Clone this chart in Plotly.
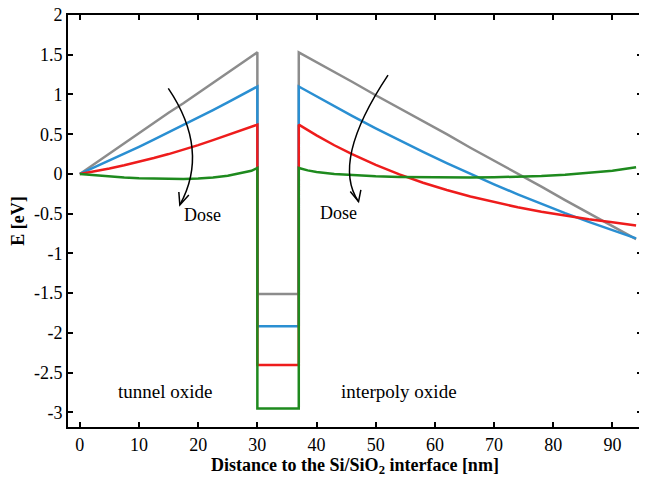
import plotly.graph_objects as go

# ---------------- data ----------------
well_left = 30
well_right = 37

x_tunnel = [0, 2.5, 5, 7.5, 10, 12.5, 15, 17.5, 20, 22.5, 25, 27.5, 29, 30]
x_interpoly = [37, 38.5, 40, 43, 46, 50, 54, 58, 62, 66, 70, 74, 78, 82, 86, 90, 94]

gray_tunnel = [0, 0.13, 0.26, 0.38, 0.51, 0.64, 0.77, 0.89, 1.02, 1.15, 1.28, 1.40, 1.48, 1.53]
gray_bottom = -1.51
gray_interpoly = [1.53, 1.47, 1.41, 1.28, 1.16, 0.99, 0.83, 0.66, 0.50, 0.33, 0.17, 0.00,
                  -0.16, -0.33, -0.49, -0.655, -0.82]

blue_tunnel = [0, 0.083, 0.168, 0.254, 0.342, 0.431, 0.522, 0.615, 0.709, 0.804, 0.901, 1.000, 1.06, 1.10]
blue_bottom = -1.915
blue_interpoly = [1.10, 1.037, 0.974, 0.851, 0.730, 0.574, 0.423, 0.277, 0.136, 0.000, -0.130,
                  -0.256, -0.377, -0.493, -0.603, -0.709, -0.81]

red_tunnel = [0, 0.033, 0.069, 0.109, 0.152, 0.200, 0.250, 0.305, 0.363, 0.425, 0.490, 0.560, 0.595, 0.62]
red_bottom = -2.405
red_interpoly = [0.62, 0.55, 0.485, 0.361, 0.248, 0.114, -0.005, -0.110, -0.202, -0.284, -0.356,
                 -0.420, -0.476, -0.526, -0.570, -0.608, -0.65]

green_tunnel = [0, -0.018, -0.033, -0.045, -0.054, -0.060, -0.063, -0.063, -0.058, -0.045, -0.022,
                0.012, 0.04, 0.075]
green_bottom = -2.95
green_interpoly = [0.075, 0.045, 0.025, 0.0, -0.015, -0.03, -0.038, -0.042, -0.044, -0.044,
                   -0.042, -0.036, -0.026, -0.011, 0.01, 0.04, 0.085]

x_ticks = [0, 10, 20, 30, 40, 50, 60, 70, 80, 90]
y_ticks = [2, 1.5, 1, 0.5, 0, -0.5, -1, -1.5, -2, -2.5, -3]
y_ticktext = ["2", "1.5", "1", "0.5", "0", "-0.5", "-1", "-1.5", "-2", "-2.5", "-3"]

series = [
    ("gray", "#8c8c8c", gray_tunnel, gray_bottom, gray_interpoly),
    ("blue", "#2a8fd2", blue_tunnel, blue_bottom, blue_interpoly),
    ("red", "#ee1c1c", red_tunnel, red_bottom, red_interpoly),
    ("green", "#1e8a1e", green_tunnel, green_bottom, green_interpoly),
]

FONT = "Liberation Serif"

fig = go.Figure()
for name, color, yt, yb, yi in series:
    xs = list(x_tunnel) + [well_left, well_right] + list(x_interpoly)
    ys = list(yt) + [yb, yb] + list(yi)
    fig.add_trace(go.Scatter(x=xs, y=ys, mode="lines", name=name,
                             line=dict(color=color, width=2.5),
                             showlegend=False, hoverinfo="skip"))

# curved "Dose" arrows (decoration)
arrow_line = dict(color="black", width=1.5)
fig.add_shape(type="path", xref="x", yref="y",
              path="M 14.95,1.077 Q 22.0,0.30 16.9,-0.39", line=arrow_line)
fig.add_shape(type="path", xref="x", yref="y",
              path="M 18.42,-0.264 L 16.9,-0.39 L 16.73,-0.227", line=arrow_line)
fig.add_shape(type="path", xref="x", yref="y",
              path="M 52.08,1.244 Q 42.4,0.16 47.1,-0.348", line=arrow_line)
fig.add_shape(type="path", xref="x", yref="y",
              path="M 45.70,-0.222 L 47.1,-0.348 L 47.49,-0.201", line=arrow_line)

dose_font = dict(family=FONT, size=18, color="black")
oxide_font = dict(family=FONT, size=19, color="black")
fig.add_annotation(x=20.8, y=-0.52, text="Dose", showarrow=False, font=dose_font)
fig.add_annotation(x=43.7, y=-0.49, text="Dose", showarrow=False, font=dose_font)
fig.add_annotation(x=14.4, y=-2.74, text="tunnel oxide", showarrow=False, font=oxide_font)
fig.add_annotation(x=54.0, y=-2.74, text="interpoly oxide", showarrow=False, font=oxide_font)

axis_common = dict(showline=True, linecolor="black", linewidth=2, mirror="ticks",
                   ticks="inside", ticklen=5, tickwidth=2, tickcolor="black",
                   showgrid=False, zeroline=False, automargin=False,
                   ticklabeloverflow="allow",
                   tickfont=dict(family=FONT, size=18, color="black"))

# the page body adds an 8px offset, so the figure is sized 8px smaller
fig.update_layout(
    width=639, height=471,
    margin=dict(l=60, r=5, t=7, b=52),
    paper_bgcolor="white", plot_bgcolor="white",
    font=dict(family=FONT, color="black"),
    xaxis=dict(range=[-2, 95], tickvals=x_ticks,
               title=dict(text="<b>Distance to the Si/SiO<sub>2</sub> interface [nm]</b>",
                          font=dict(family=FONT, size=18, color="black"), standoff=2),
               **axis_common),
    yaxis=dict(range=[-3.184, 2], tickvals=y_ticks, ticktext=y_ticktext,
               title=dict(text="<b>E [eV]</b>",
                          font=dict(family=FONT, size=18, color="black"), standoff=10),
               **axis_common),
)

fig.write_html("out.html")
